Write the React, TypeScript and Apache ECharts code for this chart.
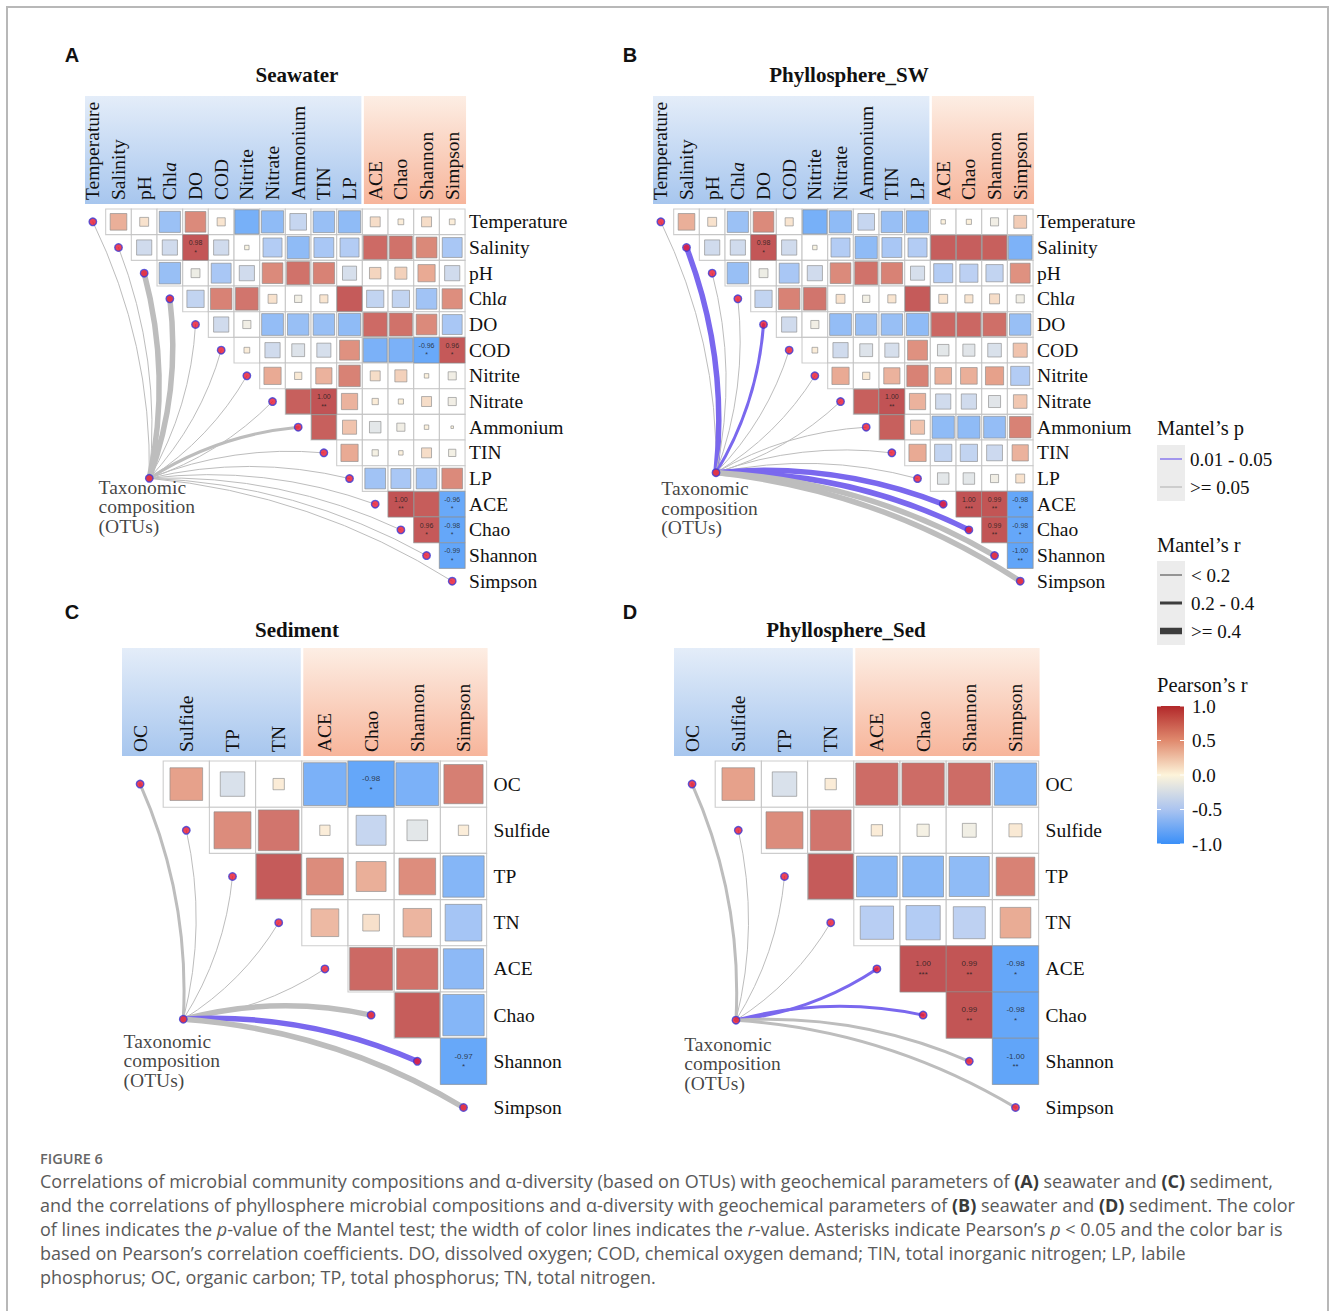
import React, { useEffect, useRef } from "react";
import * as echarts from "echarts";

// ---------- variables ----------
const seawaterVars = ["Temperature", "Salinity", "pH", "Chla", "DO", "COD", "Nitrite", "Nitrate", "Ammonium", "TIN", "LP", "ACE", "Chao", "Shannon", "Simpson"];
const sedimentVars = ["OC", "Sulfide", "TP", "TN", "ACE", "Chao", "Shannon", "Simpson"];

// ---------- Pearson's r (upper triangles, row i holds columns i+1 ...) ----------
// seawater environment x environment (shared by panels A and B)
const seawaterEnvR: number[][] = [
  [0.42, 0.12, -0.68, 0.65, 0.10, -0.88, -0.75, -0.42, -0.70, -0.75],
  [-0.35, -0.35, 0.98, -0.35, -0.03, -0.55, -0.75, -0.60, -0.55],
  [-0.70, -0.12, -0.60, -0.35, 0.65, 0.80, 0.70, -0.30],
  [-0.45, 0.70, 0.78, 0.12, -0.08, 0.10, 0.95],
  [-0.35, -0.10, -0.72, -0.70, -0.70, -0.75],
  [0.05, -0.35, -0.25, -0.30, 0.60],
  [0.45, 0.08, 0.40, 0.70],
  [0.92, 1.00, 0.40],
  [0.92, 0.30],
  [0.45],
  [],
];
// seawater environment x alpha diversity (ACE, Chao, Shannon, Simpson)
const seawaterDivA: number[][] = [
  [0.15, 0.05, 0.15, 0.05],
  [0.85, 0.80, 0.66, -0.60],
  [0.20, 0.22, 0.45, -0.35],
  [-0.45, -0.45, -0.65, 0.62],
  [0.85, 0.80, 0.65, -0.60],
  [-0.86, -0.86, -0.96, 0.96],
  [0.15, 0.22, 0.03, -0.10],
  [0.06, 0.04, 0.15, -0.10],
  [-0.20, -0.10, 0.03, 0.01],
  [-0.06, 0.03, 0.15, -0.08],
  [-0.65, -0.60, -0.65, 0.65],
];
const seawaterDivB: number[][] = [
  [0.03, 0.04, -0.10, 0.25],
  [0.93, 0.93, 0.92, -0.85],
  [-0.55, -0.50, -0.45, 0.60],
  [0.12, 0.10, 0.15, -0.10],
  [0.87, 0.87, 0.82, -0.70],
  [-0.20, -0.22, -0.28, 0.30],
  [0.42, 0.42, 0.50, -0.55],
  [-0.35, -0.35, -0.22, 0.28],
  [-0.75, -0.75, -0.72, 0.70],
  [-0.45, -0.45, -0.38, 0.40],
  [-0.20, -0.20, -0.10, 0.12],
];
// diversity x diversity
const diversityRA: number[][] = [[1.0, 0.94, -0.96], [0.96, -0.98], [-0.99], []];
const diversityRB: number[][] = [[1.0, 0.99, -0.98], [0.99, -0.98], [-1.0], []];

// sediment environment x environment (shared by panels C and D)
const sedimentEnvR: number[][] = [[0.5, -0.28, 0.06], [0.64, 0.78], [0.95], []];
const sedimentDivC: number[][] = [
  [-0.86, -0.98, -0.86, 0.72],
  [0.05, -0.42, -0.20, 0.05],
  [0.64, 0.42, 0.63, -0.80],
  [0.36, 0.13, 0.38, -0.63],
];
const sedimentDivD: number[][] = [
  [0.84, 0.84, 0.84, -0.84],
  [0.06, -0.07, -0.09, 0.08],
  [-0.78, -0.78, -0.75, 0.70],
  [-0.52, -0.55, -0.48, 0.44],
];
const diversityRC: number[][] = [[0.86, 0.80, -0.76], [0.94, -0.80], [-0.97], []];
const diversityRD: number[][] = [[1.0, 0.99, -0.98], [0.99, -0.98], [-1.0], []];

// Pearson significance marks: [row, column, stars]
const starsA: [number, number, string][] = [[1, 4, "*"], [5, 13, "*"], [5, 14, "*"], [7, 9, "**"], [11, 12, "**"], [11, 14, "*"], [12, 13, "*"], [12, 14, "*"], [13, 14, "*"]];
const starsB: [number, number, string][] = [[1, 4, "*"], [7, 9, "**"], [11, 12, "***"], [11, 13, "**"], [11, 14, "*"], [12, 13, "**"], [12, 14, "*"], [13, 14, "**"]];
const starsC: [number, number, string][] = [[0, 5, "*"], [6, 7, "*"]];
const starsD: [number, number, string][] = [[4, 5, "***"], [4, 6, "**"], [4, 7, "*"], [5, 6, "**"], [5, 7, "*"], [6, 7, "**"]];

// Mantel tests (community composition vs each variable)
const mantelRA = [0.12, 0.10, 0.45, 0.42, 0.10, 0.08, 0.10, 0.12, 0.30, 0.10, 0.10, 0.08, 0.10, 0.10, 0.10];
const mantelPA = [0.30, 0.40, 0.12, 0.11, 0.50, 0.60, 0.40, 0.30, 0.15, 0.50, 0.40, 0.60, 0.50, 0.50, 0.50];
const mantelRB = [0.10, 0.45, 0.10, 0.10, 0.30, 0.10, 0.10, 0.10, 0.10, 0.10, 0.10, 0.45, 0.45, 0.45, 0.45];
const mantelPB = [0.40, 0.02, 0.30, 0.40, 0.03, 0.50, 0.40, 0.40, 0.30, 0.50, 0.40, 0.03, 0.03, 0.06, 0.07];
const mantelRC = [0.30, 0.10, 0.10, 0.10, 0.10, 0.45, 0.45, 0.45];
const mantelPC = [0.20, 0.50, 0.60, 0.50, 0.50, 0.08, 0.04, 0.07];
const mantelRD = [0.30, 0.10, 0.10, 0.10, 0.30, 0.30, 0.30, 0.30];
const mantelPD = [0.20, 0.50, 0.50, 0.60, 0.04, 0.04, 0.10, 0.10];

// colour scale and legend ticks
const pearsonStops = [-1, -0.5, 0, 0.5, 1];
const pearsonColors = ["#3a8ff8", "#abc4f0", "#fdf4da", "#e08a6e", "#b2282a"];
const mantelPLabels = ["0.01 - 0.05", ">= 0.05"];
const mantelRLabels = ["< 0.2", "0.2 - 0.4", ">= 0.4"];

const captionLines = [
  "{n|Correlations of microbial community compositions and α-diversity (based on OTUs) with geochemical parameters of }{b|(A)}{n| seawater and }{b|(C)}{n| sediment,}",
  "{n|and the correlations of phyllosphere microbial compositions and α-diversity with geochemical parameters of }{b|(B)}{n| seawater and }{b|(D)}{n| sediment. The color}",
  "{n|of lines indicates the }{i|p}{n|-value of the Mantel test; the width of color lines indicates the }{i|r}{n|-value. Asterisks indicate Pearson’s }{i|p}{n| < 0.05 and the color bar is}",
  "{n|based on Pearson’s correlation coefficients. DO, dissolved oxygen; COD, chemical oxygen demand; TIN, total inorganic nitrogen; LP, labile}",
  "{n|phosphorus; OC, organic carbon; TP, total phosphorus; TN, total nitrogen.}",
];

// ---------- helpers ----------
type Cell = { i: number; j: number; r: number };

function buildCells(nEnv: number, env: number[][], div: number[][], divDiv: number[][]): Cell[] {
  const out: Cell[] = [];
  for (let i = 0; i < nEnv; i++) {
    env[i].forEach((r, k) => out.push({ i, j: i + 1 + k, r }));
    div[i].forEach((r, k) => out.push({ i, j: nEnv + k, r }));
  }
  divDiv.forEach((row, d) => {
    const i = nEnv + d;
    row.forEach((r, k) => out.push({ i, j: i + 1 + k, r }));
  });
  return out;
}

const SERIF = "'Liberation Serif','Times New Roman',serif";
const SANS = "'Liberation Sans',Arial,sans-serif";
const CAPTION = "'Open Sans','Noto Sans',sans-serif";
const PURPLE = "#7a68ee";
const GREY = "#bdbdbd";

const mantelWidth = (r: number) => (r < 0.2 ? 1 : r < 0.4 ? 3 : 5.5);

type Panel = {
  letter: string; title: string; vars: string[]; nEnv: number; cells: Cell[];
  stars: [number, number, string][]; mR: number[]; mP: number[];
  left: number; top: number; cell: number; node: [number, number];
  textOff: [number, number]; bendSplit: number; letterPos: [number, number];
  titlePos: [number, number]; rowMargin: number; valueFont: number;
};

const panels: Panel[] = [
  { letter: "A", title: "Seawater", vars: seawaterVars, nEnv: 11, cells: buildCells(11, seawaterEnvR, seawaterDivA, diversityRA),
    stars: starsA, mR: mantelRA, mP: mantelPA, left: 80, top: 209, cell: 25.67, node: [2.7, 10.49],
    textOff: [-50, 0], bendSplit: 8, letterPos: [72, 55], titlePos: [297, 75], rowMargin: 4, valueFont: 7 },
  { letter: "B", title: "Phyllosphere_SW", vars: seawaterVars, nEnv: 11, cells: buildCells(11, seawaterEnvR, seawaterDivB, diversityRB),
    stars: starsB, mR: mantelRB, mP: mantelPB, left: 648, top: 209, cell: 25.67, node: [2.65, 10.27],
    textOff: [-54, 7], bendSplit: 8, letterPos: [630, 55], titlePos: [849, 75], rowMargin: 4, valueFont: 7 },
  { letter: "C", title: "Sediment", vars: sedimentVars, nEnv: 4, cells: buildCells(4, sedimentEnvR, sedimentDivC, diversityRC),
    stars: starsC, mR: mantelRC, mP: mantelPC, left: 117, top: 761, cell: 46.2, node: [1.435, 5.59],
    textOff: [-59, 13], bendSplit: 5, letterPos: [72, 612], titlePos: [297, 630], rowMargin: 7, valueFont: 8 },
  { letter: "D", title: "Phyllosphere_Sed", vars: sedimentVars, nEnv: 4, cells: buildCells(4, sedimentEnvR, sedimentDivD, diversityRD),
    stars: starsD, mR: mantelRD, mP: mantelPD, left: 669, top: 761, cell: 46.2, node: [1.45, 5.61],
    textOff: [-51, 15], bendSplit: 5, letterPos: [630, 612], titlePos: [846, 630], rowMargin: 7, valueFont: 8 },
];

const labelRich = {
  n: { fontFamily: SERIF, fontSize: 19.5, color: "#111" },
  i: { fontFamily: SERIF, fontSize: 19.5, color: "#111", fontStyle: "italic" },
};
const labelFmt = (v: string) => (v === "Chla" ? "{n|Chl}{i|a}" : "{n|" + v + "}");

function buildOption() {
  const grid: any[] = [];
  const xAxis: any[] = [];
  const yAxis: any[] = [];
  const series: any[] = [];
  const colourSeries: number[] = [];
  const graphic: any[] = [];

  panels.forEach((p, k) => {
    const n = p.vars.length;
    const size = n * p.cell;
    grid.push({ left: p.left, top: p.top, width: size, height: size });
    xAxis.push({
      gridIndex: k, type: "category", position: "top", data: p.vars,
      axisLine: { show: false }, axisTick: { show: false }, splitLine: { show: false },
      axisLabel: { interval: 0, rotate: 90, margin: 9, formatter: labelFmt, rich: labelRich },
    });
    xAxis.push({ gridIndex: k, type: "value", min: 0, max: n, show: false });
    yAxis.push({
      gridIndex: k, type: "category", position: "right", inverse: true, data: p.vars,
      axisLine: { show: false }, axisTick: { show: false }, splitLine: { show: false },
      axisLabel: { interval: 0, margin: p.rowMargin, formatter: labelFmt, rich: labelRich },
    });
    yAxis.push({ gridIndex: k, type: "value", min: 0, max: n, inverse: true, show: false });

    const xi = 2 * k + 1;
    const yi = 2 * k + 1;
    const starOf = (c: Cell) => p.stars.find((s) => s[0] === c.i && s[1] === c.j);

    // white cell backgrounds
    series.push({
      type: "scatter", xAxisIndex: xi, yAxisIndex: yi, silent: true, symbol: "rect", symbolSize: p.cell,
      itemStyle: { color: "#ffffff", borderColor: "#c0c0c0", borderWidth: 1.1 },
      data: p.cells.map((c) => [c.j + 0.5, c.i + 0.5]), z: 1,
    });

    // mantel links
    series.push({
      type: "lines", coordinateSystem: "cartesian2d", xAxisIndex: xi, yAxisIndex: yi, silent: true, z: 2,
      data: p.vars.map((v, i) => ({
        name: v,
        coords: [p.node, [i + 0.5, i + 0.5]],
        lineStyle: {
          color: p.mP[i] < 0.05 ? PURPLE : GREY,
          width: mantelWidth(p.mR[i]),
          curveness: i < p.bendSplit ? -0.12 : 0.12,
          opacity: 1,
          cap: "round",
        },
      })),
    });

    // correlation squares
    colourSeries.push(series.length);
    series.push({
      type: "scatter", xAxisIndex: xi, yAxisIndex: yi, silent: true, symbol: "rect", z: 3,
      data: p.cells.map((c) => {
        const s = starOf(c);
        return {
          value: [c.j + 0.5, c.i + 0.5, c.r],
          symbolSize: s ? p.cell : p.cell * Math.sqrt(Math.abs(c.r)),
          itemStyle: s ? { borderColor: "#9a9a9a", borderWidth: 0.8 } : { borderColor: "#8a8a8a", borderWidth: 0.8 },
          label: s
            ? {
                show: true, position: "inside", formatter: c.r.toFixed(2) + "\n" + s[2],
                fontFamily: SANS, fontSize: p.valueFont, lineHeight: p.valueFont + 2.5, color: "#1a1a1a",
              }
            : { show: false },
        };
      }),
    });

    // variable points and community node
    series.push({
      type: "scatter", xAxisIndex: xi, yAxisIndex: yi, silent: true, symbol: "circle", symbolSize: 7.5, z: 4,
      itemStyle: { color: "#e8142c", borderColor: "#3b3bd6", borderWidth: 1.4 },
      data: [
        ...p.vars.map((_, i) => [i + 0.5, i + 0.5]),
        {
          value: p.node,
          label: {
            show: true, position: [p.textOff[0] + 3.75, p.textOff[1] + 3.75], align: "left", verticalAlign: "top",
            formatter: "Taxonomic\ncomposition\n(OTUs)", fontFamily: SERIF, fontSize: 19.5, lineHeight: 19.5, color: "#111",
          },
        },
      ],
    });

    // header bands
    const splitX = p.left + p.nEnv * p.cell;
    const bandTop = p.top - 113;
    const bandH = 108;
    graphic.push({
      type: "rect", z: -1, shape: { x: p.left + 5, y: bandTop, width: splitX - p.left - 6, height: bandH },
      style: { fill: { type: "linear", x: 0, y: 0, x2: 0, y2: 1, colorStops: [{ offset: 0, color: "#e4edf9" }, { offset: 1, color: "#a7c6ee" }] } },
    });
    graphic.push({
      type: "rect", z: -1, shape: { x: splitX + 1.5, y: bandTop, width: p.left + size - splitX - 0.5, height: bandH },
      style: { fill: { type: "linear", x: 0, y: 0, x2: 0, y2: 1, colorStops: [{ offset: 0, color: "#fdeee4" }, { offset: 1, color: "#f7b59b" }] } },
    });
    graphic.push({
      type: "text", x: p.letterPos[0], y: p.letterPos[1],
      style: { text: p.letter, fontFamily: SANS, fontWeight: "bold", fontSize: 20, fill: "#111", align: "center", verticalAlign: "middle" },
    });
    graphic.push({
      type: "text", x: p.titlePos[0], y: p.titlePos[1],
      style: { text: p.title, fontFamily: SERIF, fontWeight: "bold", fontSize: 21, fill: "#111", align: "center", verticalAlign: "middle" },
    });
  });

  // figure frame
  graphic.push({
    type: "polyline", shape: { points: [[7, 1311], [7, 7], [1328, 7], [1328, 1311]] },
    style: { stroke: "#b8b8b8", lineWidth: 2, fill: null },
  });

  // ---------- legends ----------
  const lx = 1157;
  const legendText = (text: string, x: number, y: number, size = 19) => ({
    type: "text", x, y, style: { text, fontFamily: SERIF, fontSize: size, fill: "#111", verticalAlign: "middle" },
  });
  graphic.push(legendText("Mantel’s p", lx, 428, 20.5));
  graphic.push({ type: "rect", shape: { x: lx, y: 445, width: 28, height: 56 }, style: { fill: "#ececec" } });
  [PURPLE, GREY].forEach((c, i) => {
    const y = 459 + i * 28;
    graphic.push({ type: "line", shape: { x1: lx + 3, y1: y, x2: lx + 25, y2: y }, style: { stroke: c, lineWidth: 1.3 } });
    graphic.push(legendText(mantelPLabels[i], lx + 33, y));
  });
  graphic.push(legendText("Mantel’s r", lx, 545, 20.5));
  graphic.push({ type: "rect", shape: { x: lx, y: 561, width: 28, height: 84 }, style: { fill: "#ececec" } });
  [1, 3, 6.5].forEach((w, i) => {
    const y = 575 + i * 28;
    graphic.push({ type: "line", shape: { x1: lx + 3, y1: y, x2: lx + 25, y2: y }, style: { stroke: "#3c3c3c", lineWidth: w } });
    graphic.push(legendText(mantelRLabels[i], lx + 34, y));
  });
  graphic.push(legendText("Pearson’s r", lx, 685, 20.5));
  const barTop = 706;
  const barH = 138;
  graphic.push({
    type: "rect", shape: { x: lx, y: barTop, width: 27, height: barH },
    style: {
      fill: {
        type: "linear", x: 0, y: 0, x2: 0, y2: 1,
        colorStops: pearsonStops.map((s, i) => ({ offset: (1 - s) / 2, color: pearsonColors[i] })).reverse(),
      },
    },
  });
  pearsonStops.forEach((s) => {
    const y = barTop + ((1 - s) / 2) * barH;
    graphic.push({ type: "line", shape: { x1: lx, y1: y, x2: lx + 4, y2: y }, style: { stroke: "#ffffff", lineWidth: 1 } });
    graphic.push({ type: "line", shape: { x1: lx + 23, y1: y, x2: lx + 27, y2: y }, style: { stroke: "#ffffff", lineWidth: 1 } });
    graphic.push(legendText(s.toFixed(1), lx + 35, y));
  });

  // ---------- caption ----------
  graphic.push({
    type: "text", x: 40, y: 1158,
    style: { text: "FIGURE 6", fontFamily: CAPTION, fontWeight: 600, fontSize: 14.5, fill: "#666", verticalAlign: "middle" },
  });
  captionLines.forEach((line, i) => {
    graphic.push({
      type: "text", x: 40, y: 1181 + i * 24,
      style: {
        text: line, verticalAlign: "middle",
        rich: {
          n: { fontFamily: CAPTION, fontSize: 18, fill: "#5a5a5a" },
          b: { fontFamily: CAPTION, fontSize: 18, fill: "#3a3a3a", fontWeight: "bold" },
          i: { fontFamily: CAPTION, fontSize: 18, fill: "#5a5a5a", fontStyle: "italic" },
        },
      },
    });
  });

  return {
    animation: false,
    backgroundColor: "#ffffff",
    grid, xAxis, yAxis, series, graphic,
    visualMap: {
      show: false, type: "continuous", min: -1, max: 1, dimension: 2, seriesIndex: colourSeries,
      inRange: { color: pearsonColors },
    },
  };
}

export default function App() {
  const ref = useRef<HTMLDivElement>(null);
  useEffect(() => {
    if (!ref.current) return;
    const chart = echarts.init(ref.current, undefined, { renderer: "svg" });
    chart.setOption(buildOption() as any);
    return () => chart.dispose();
  }, []);
  return <div ref={ref} style={{ position: "absolute", left: 0, top: 0, width: 1330, height: 1311 }} />;
}
